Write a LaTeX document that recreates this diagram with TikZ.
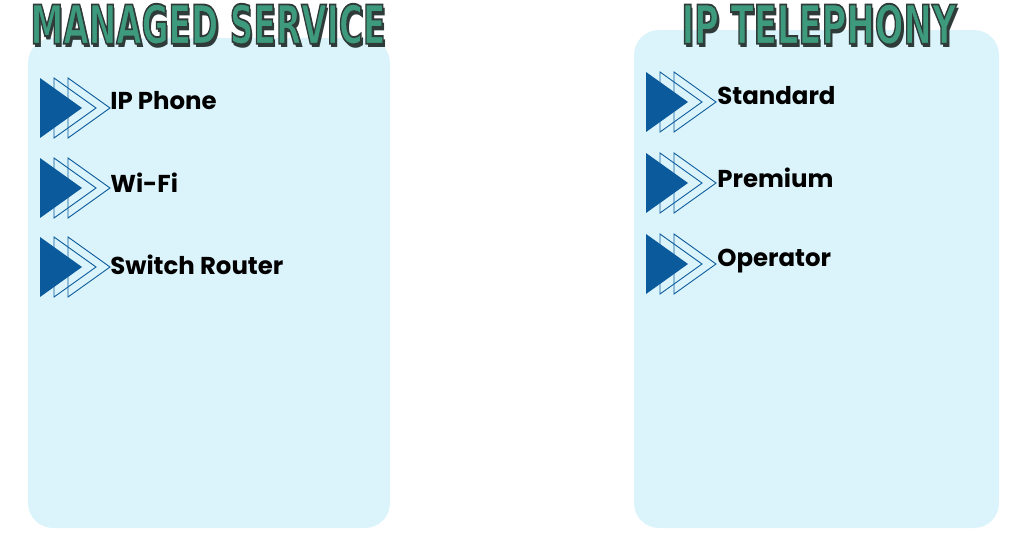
\documentclass[tikz,border=0pt]{standalone}
\usepackage{fontspec}
\newfontfamily\itemfont{Poppins}
\newfontfamily\titlefont{DejaVu Sans Condensed}
\definecolor{panelcyan}{HTML}{DBF4FB}
\definecolor{arrowblue}{HTML}{0A5A9C}
\definecolor{titlegreen}{HTML}{3E9A7C}
\definecolor{titledark}{HTML}{2F3B38}

% title text with dark outline and dark drop shadow
\newcommand{\shadowtitle}[1]{\makebox[0pt][l]{\hspace{0.6pt}\raisebox{-0.7pt}{\color{titledark}#1}}{\color{titlegreen}\special{pdf:code q 0.184 0.231 0.220 RG 0.35 w 2 Tr}#1\special{pdf:code 0 Tr Q}}}

\tikzset{panel_style/.style={fill=panelcyan, draw=none, rounded corners=0.5cm}}
\tikzset{item_style/.style={anchor=west, inner sep=0pt, font=\itemfont\bfseries\fontsize{13.9}{15}\selectfont}}
\tikzset{title_style/.style={inner sep=0pt, font=\titlefont\bfseries}}
\tikzset{arrows_pic/.pic={
    \draw[arrowblue, line width=0.5pt] (14,-30) -- (56,0) -- (14,30) -- cycle;
    \draw[arrowblue, line width=0.5pt] (28,-30) -- (70,0) -- (28,30) -- cycle;
    \fill[arrowblue] (0,-30) -- (42,0) -- (0,30) -- cycle;
}}

\begin{document}
\begin{tikzpicture}[x=0.02cm, y=-0.02cm]
    \useasboundingbox (0,0) rectangle (1024,534);

    % panels
    \fill[panel_style] (28,38) rectangle (390,528);
    \fill[panel_style] (634,30) rectangle (999,528);

    % titles
    \node[title_style] (ms_title) at (208,26) {\resizebox{7.1cm}{0.8cm}{\shadowtitle{MANAGED SERVICE}}};
    \node[title_style] (ipt_title) at (819,26) {\resizebox{5.5cm}{0.8cm}{\shadowtitle{IP TELEPHONY}}};

    % managed service items
    \pic at (40,108) {arrows_pic};
    \node[item_style] (ms_phone) at (110,101) {IP Phone};
    \pic at (40,188) {arrows_pic};
    \node[item_style] (ms_wifi) at (110,183) {Wi-Fi};
    \pic at (40,267) {arrows_pic};
    \node[item_style] (ms_switch) at (110,265) {Switch Router};

    % ip telephony items
    \pic at (646,102) {arrows_pic};
    \node[item_style] (ipt_standard) at (717,96) {Standard};
    \pic at (646,183) {arrows_pic};
    \node[item_style] (ipt_premium) at (717,178) {Premium};
    \pic at (646,264) {arrows_pic};
    \node[item_style] (ipt_operator) at (717,261) {Operator};

\end{tikzpicture}
\end{document}
